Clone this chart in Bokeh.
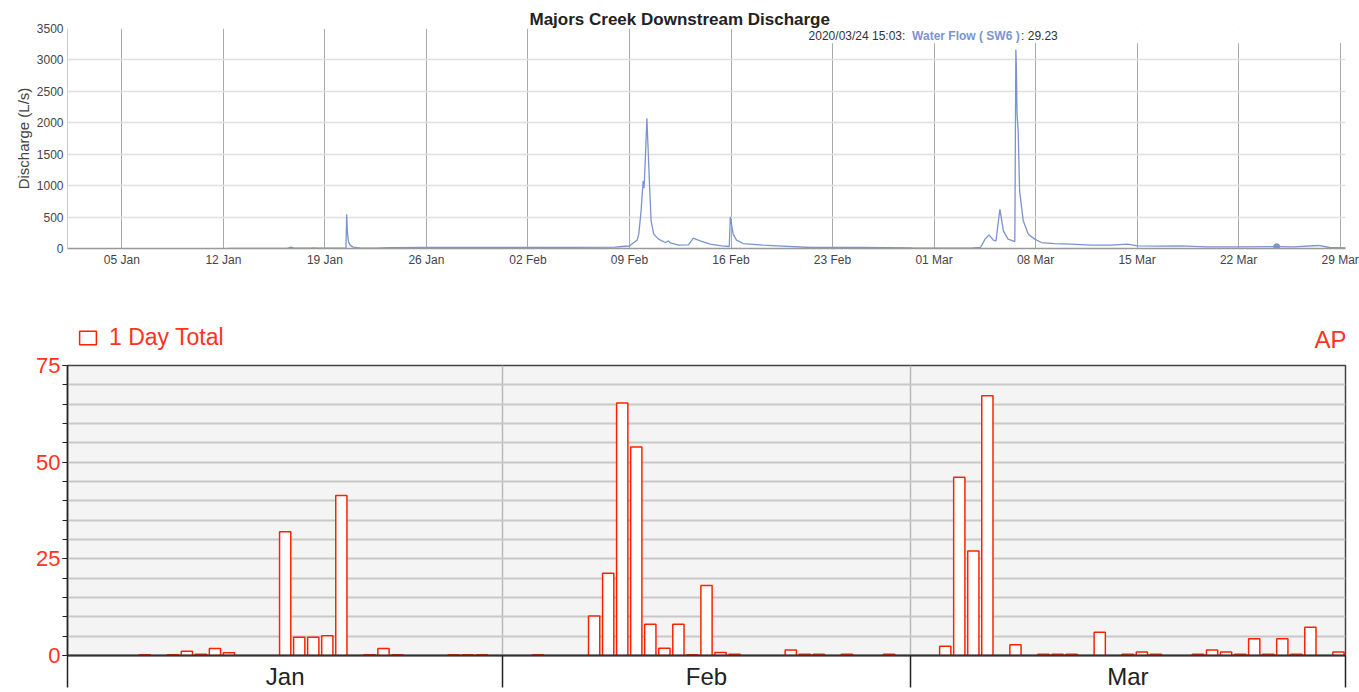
import pandas as pd
from bokeh.plotting import figure
from bokeh.models import (FixedTicker, Range1d, Label, BoxAnnotation, Legend,
                          LegendItem)
from bokeh.layouts import column
from bokeh.embed import file_html
from bokeh.resources import INLINE

START = pd.Timestamp("2020-01-01")

# ---------------- top chart data: discharge (L/s), time in days since 2020-01-01 ----------------
flow_day = [11.3, 13.0, 15.4, 15.65, 15.9, 17.0, 17.2, 17.5, 19.45, 19.5, 19.55, 19.62,
            19.75, 19.95, 20.4, 21.5, 22.4, 25.0, 30.0, 35.0, 38.0, 38.5, 39.0, 39.3,
            39.53, 39.64, 39.8, 39.94, 40.0, 40.03, 40.2, 40.38, 40.49, 40.67, 41.0,
            41.47, 41.7, 41.8, 42.4, 43.07, 43.4, 43.87, 44.56, 45.35, 45.88, 45.95,
            46.15, 46.38, 46.84, 48.2, 49.2, 51.5, 55.0, 58.5, 62.5, 63.2, 63.52, 63.79,
            64.09, 64.27, 64.54, 64.78, 65.1, 65.57, 65.64, 65.68, 65.72, 65.8, 65.9,
            66.15, 66.5, 66.94, 67.4, 68.3, 69.46, 70.83, 72.2, 73.35, 74.03, 75.4, 77.0,
            78.8, 81.1, 83.63, 84.76, 86.5, 87.28, 88.4]
flow_value = [2, 3, 3, 22, 6, 4, 9, 4, 4, 546, 260, 110,
              50, 22, 10, 6, 15, 18, 18, 17, 22, 32, 40, 95,
              133, 228, 598, 1075, 958, 1075, 2070, 1022, 440, 228, 149,
              95, 122, 90, 54, 59, 165, 122, 70, 43, 32, 503,
              228, 133, 79, 54, 43, 16, 16, 8, 5, 16, 149, 217,
              133, 122, 625, 281, 149, 111, 3165, 2870, 2160, 1868, 916,
              440, 228, 149, 95, 79, 70, 54, 54, 70, 43, 38, 43,
              27, 27, 29.23, 27, 48, 16, 11]
hover_time = "2020-03-24 15:03"
hover_value = 29.23
week_ticks = ["2020-01-05", "2020-01-12", "2020-01-19", "2020-01-26", "2020-02-02",
              "2020-02-09", "2020-02-16", "2020-02-23", "2020-03-01", "2020-03-08",
              "2020-03-15", "2020-03-22", "2020-03-29"]
flow_ticks = [0, 500, 1000, 1500, 2000, 2500, 3000, 3500]

# ---------------- bottom chart data: 1 day rainfall totals ----------------
rain_date = ["2020-01-06", "2020-01-08", "2020-01-09", "2020-01-10", "2020-01-11", "2020-01-12",
             "2020-01-16", "2020-01-17", "2020-01-18", "2020-01-19", "2020-01-20", "2020-01-22",
             "2020-01-23", "2020-01-24", "2020-01-28", "2020-01-29", "2020-01-30",
             "2020-02-03", "2020-02-07", "2020-02-08", "2020-02-09", "2020-02-10", "2020-02-11",
             "2020-02-12", "2020-02-13", "2020-02-14", "2020-02-15", "2020-02-16", "2020-02-17",
             "2020-02-21", "2020-02-22", "2020-02-23", "2020-02-25", "2020-02-28",
             "2020-03-03", "2020-03-04", "2020-03-05", "2020-03-06", "2020-03-08", "2020-03-10",
             "2020-03-11", "2020-03-12", "2020-03-14", "2020-03-16", "2020-03-17", "2020-03-18",
             "2020-03-21", "2020-03-22", "2020-03-23", "2020-03-24", "2020-03-25", "2020-03-26",
             "2020-03-27", "2020-03-28", "2020-03-29", "2020-03-31"]
rain_mm = [0.2, 0.2, 1.1, 0.3, 1.8, 0.7,
           32.0, 4.7, 4.7, 5.1, 41.4, 0.2,
           1.8, 0.2, 0.2, 0.2, 0.2,
           0.2, 10.2, 21.3, 65.3, 53.9, 8.1,
           1.9, 8.1, 0.2, 18.1, 0.8, 0.3,
           1.4, 0.3, 0.3, 0.3, 0.3,
           2.4, 46.1, 27.0, 67.2, 2.8, 0.3,
           0.3, 0.3, 6.0, 0.3, 0.9, 0.3,
           0.3, 1.4, 0.9, 0.3, 4.3, 0.3,
           4.3, 0.3, 7.3, 0.9]
months = ["Jan", "Feb", "Mar"]
month_starts = ["2020-01-01", "2020-02-01", "2020-03-01", "2020-04-01"]
rain_ticks = [0, 25, 50, 75]


def day_of(s):
    return (pd.Timestamp(s) - START) / pd.Timedelta(days=1)


FONT = "Liberation Sans"
BLUE = "#7b94cf"
RED = "#ff3322"
BAR_LINE = "#ff2200"

# ======================= top chart =======================
p1 = figure(width=1359, height=270, x_range=Range1d(0.25, 88.37), y_range=Range1d(0, 3500),
            output_backend="svg", toolbar_location=None,
            min_border_left=61, min_border_right=14, min_border_top=28, min_border_bottom=22)
p1.outline_line_color = None
p1.title.text = "Majors Creek Downstream Discharge"
p1.title.align = "left"
p1.title.offset = 462
p1.title.standoff = 0
p1.title.text_font = FONT
p1.title.text_font_size = "17px"
p1.title.text_font_style = "bold"
p1.title.text_color = "#222222"

wk = [day_of(d) for d in week_ticks]
p1.xaxis.ticker = FixedTicker(ticks=wk)
p1.xaxis.major_label_overrides = {d: pd.Timestamp(s).strftime("%d %b") for d, s in zip(wk, week_ticks)}
p1.yaxis.ticker = FixedTicker(ticks=flow_ticks)
for ax in (p1.xaxis[0], p1.yaxis[0]):
    ax.major_tick_out = 0
    ax.major_tick_in = 0
    ax.minor_tick_out = 0
    ax.minor_tick_in = 0
    ax.major_label_text_font = FONT
    ax.major_label_text_font_size = "12px"
    ax.major_label_text_color = "#444444"
p1.xaxis.axis_line_color = "#999999"
p1.xaxis.axis_line_width = 1.5
p1.xaxis.major_label_standoff = 4
p1.yaxis.axis_line_color = "#cccccc"
p1.yaxis.major_label_standoff = 4
p1.yaxis.axis_label = "Discharge (L/s)"
p1.yaxis.axis_label_text_font = FONT
p1.yaxis.axis_label_text_font_style = "normal"
p1.yaxis.axis_label_text_font_size = "15px"
p1.yaxis.axis_label_text_color = "#444444"
p1.yaxis.axis_label_standoff = 2
p1.xgrid.grid_line_color = "#aaaaaa"
p1.xgrid.grid_line_width = 1
p1.ygrid.grid_line_color = "#e0e0e0"
p1.ygrid.grid_line_width = 1.5

# white box behind the hover read-out
p1.add_layout(BoxAnnotation(left=51.0, right=88.37, bottom=3265, top=3500,
                            fill_color="white", fill_alpha=1.0, line_alpha=0))

p1.line(flow_day, flow_value, line_color=BLUE, line_width=1.3)
p1.scatter([day_of(hover_time)], [hover_value], size=6, color=BLUE)

read_y = 3376
read_x = 51.35
p1.add_layout(Label(x=read_x, y=read_y, text=pd.Timestamp(hover_time).strftime("%Y/%m/%d %H:%M") + ": ",
                    text_align="left", text_baseline="middle", text_font=FONT,
                    text_font_size="12px", text_color="#333333"))
p1.add_layout(Label(x=read_x, y=read_y, x_offset=103.5, text="Water Flow ( SW6 )",
                    text_align="left", text_baseline="middle", text_font=FONT,
                    text_font_size="12px", text_font_style="bold", text_color=BLUE))
p1.add_layout(Label(x=read_x, y=read_y, x_offset=212.5, text=": %.2f" % hover_value,
                    text_align="left", text_baseline="middle", text_font=FONT,
                    text_font_size="12px", text_color="#333333"))

# ======================= bottom chart header (legend + "AP") =======================
ms = [day_of(s) for s in month_starts]
hdr = figure(width=1359, height=82, x_range=Range1d(ms[0], ms[-1]), y_range=Range1d(0, 1),
             output_backend="svg", toolbar_location=None, x_axis_type=None, y_axis_type=None,
             min_border_left=67, min_border_right=12, min_border_top=0, min_border_bottom=0)
hdr.outline_line_color = None
hdr.grid.visible = False
# hidden proxy renderer so that the legend swatch is drawn with the bar style
legend_proxy = hdr.vbar(x=[ms[0]], top=[rain_mm[0]], bottom=[0], width=0.8,
                        fill_color="white", line_color=BAR_LINE, line_width=1.5)
legend_proxy.visible = False
legend = Legend(items=[LegendItem(label="1 Day Total", renderers=[legend_proxy])],
                location=(10, 1), padding=0, margin=0, spacing=0,
                glyph_width=21, glyph_height=17, label_standoff=11,
                label_text_font=FONT, label_text_font_size="23px", label_text_color=RED,
                background_fill_alpha=0, border_line_alpha=0,
                inactive_fill_alpha=0)
hdr.add_layout(legend)
hdr.add_layout(Label(x=ms[-1], y=0, y_offset=13, x_offset=1, text="AP", text_align="right",
                     text_baseline="middle", text_font=FONT, text_font_size="24px",
                     text_color=RED))

# ======================= bottom chart =======================
p2 = figure(width=1359, height=340, x_range=Range1d(ms[0], ms[-1]), y_range=Range1d(0, 75),
            output_backend="svg", toolbar_location=None,
            min_border_left=67, min_border_right=12, min_border_top=13, min_border_bottom=34,
            background_fill_color="#f4f4f4")
p2.outline_line_color = "#444444"
p2.outline_line_width = 1.5

p2.ygrid.ticker = FixedTicker(ticks=list(range(0, 80, 5)))
p2.ygrid.grid_line_color = "#c8c8c8"
p2.ygrid.grid_line_width = 2
p2.xgrid.ticker = FixedTicker(ticks=ms[1:-1])
p2.xgrid.grid_line_color = "#b8b8b8"
p2.xgrid.grid_line_width = 1.5

p2.yaxis.ticker = FixedTicker(ticks=rain_ticks, minor_ticks=list(range(0, 80, 5)))
p2.yaxis.axis_line_color = "#222222"
p2.yaxis.axis_line_width = 1.5
p2.yaxis.major_tick_out = 5
p2.yaxis.major_tick_in = 0
p2.yaxis.minor_tick_out = 5
p2.yaxis.minor_tick_in = 0
p2.yaxis.major_tick_line_color = "#222222"
p2.yaxis.minor_tick_line_color = "#222222"
p2.yaxis.major_label_standoff = 2
p2.yaxis.major_label_text_font = FONT
p2.yaxis.major_label_text_font_size = "22px"
p2.yaxis.major_label_text_color = RED

mid = [(a + b) / 2 for a, b in zip(ms[:-1], ms[1:])]
p2.xaxis.ticker = FixedTicker(ticks=mid, minor_ticks=ms)
p2.xaxis.major_label_overrides = {m: name for m, name in zip(mid, months)}
p2.xaxis.axis_line_color = "#333333"
p2.xaxis.axis_line_width = 2
p2.xaxis.major_tick_out = 0
p2.xaxis.major_tick_in = 0
p2.xaxis.minor_tick_out = 32
p2.xaxis.minor_tick_in = 0
p2.xaxis.minor_tick_line_color = "#222222"
p2.xaxis.minor_tick_line_width = 1.5
p2.xaxis.major_label_standoff = -25
p2.xaxis.major_label_text_font = FONT
p2.xaxis.major_label_text_font_size = "24px"
p2.xaxis.major_label_text_color = "#222222"

rain_x = [day_of(d) + 0.5 for d in rain_date]
p2.vbar(x=rain_x, top=rain_mm, bottom=0, width=0.8, fill_color="white", fill_alpha=1.0,
        line_color=BAR_LINE, line_width=1.5)

layout = column(p1, hdr, p2)
open("out.html", "w").write(file_html(layout, INLINE))
